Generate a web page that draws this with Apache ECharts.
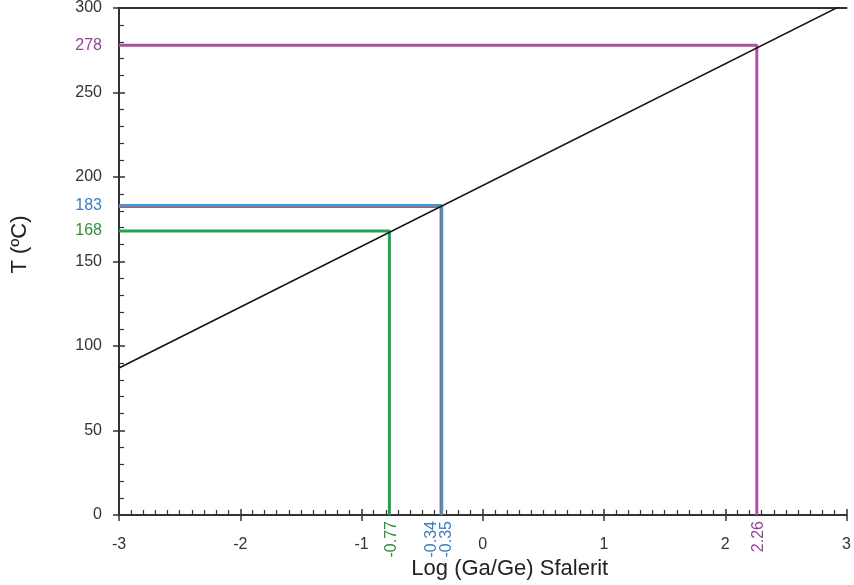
<!DOCTYPE html>
<html>
<head>
<meta charset="utf-8">
<script src="https://cdn.jsdelivr.net/npm/echarts@6/dist/echarts.min.js"></script>
<style>
  html, body { margin: 0; padding: 0; background: #fff; }
  #chart { width: 854px; height: 585px; }
</style>
</head>
<body>
<div id="chart"></div>
<script>
// geothermometer line, Log(Ga/Ge) -> T
var geoLine = [[-3, 87], [3, 303]];

// read-off guides: purple, red, blue, green
var guideX = [2.26, -0.35, -0.34, -0.77];
var guideT = [278, 182, 183, 168];
var guideColors = ["#b0509f", "#b85a5a", "#3a9ad8", "#1ea552"];
var guideWidths = [3, 1.3, 3.5, 3];

// coloured labels at the axes
var tLabels = ["278", "183", "168"];
var tLabelValues = [278, 183, 168];
var tLabelColors = ["#93409a", "#3a80c0", "#2f8f3a"];

var xLabels = ["2.26", "-0.35", "-0.34", "-0.77"];
var xLabelValues = [2.26, -0.35, -0.34, -0.77];
var xLabelColors = ["#93409a", "#3a80c0", "#3a80c0", "#2f8f3a"];
var xLabelShift = [2, 6, -10, 2];

var font = "Liberation Sans, Arial, sans-serif";
var axisColor = "#333";

var chartDom = document.getElementById("chart");
var myChart = echarts.init(chartDom);

var guideSeries = guideX.map(function (x, i) {
  return {
    type: "line",
    data: [[-3, guideT[i]], [x, guideT[i]], [x, 0]],
    symbol: "none",
    silent: true,
    lineStyle: { color: guideColors[i], width: guideWidths[i] },
    z: i === 1 ? 3 : 2
  };
});

var option = {
  animation: false,
  backgroundColor: "#fff",
  grid: { left: 119, right: 4, top: 7, bottom: 70 },
  xAxis: [
    {
      type: "value", min: -3, max: 3, interval: 1, position: "bottom",
      name: "Log (Ga/Ge) Sfalerit", nameLocation: "middle", nameGap: 40,
      nameTextStyle: { fontFamily: font, fontSize: 22, color: "#222", padding: [0, 0, 0, 54] },
      axisLine: { show: true, onZero: false, lineStyle: { color: axisColor, width: 2 } },
      axisTick: { show: true, inside: true, length: 6, lineStyle: { color: axisColor, width: 1.5 } },
      minorTick: { show: true, splitNumber: 10, length: 5, lineStyle: { color: axisColor, width: 1.2 } },
      axisLabel: { fontFamily: font, fontSize: 16, color: "#333", margin: 22 },
      splitLine: { show: false }
    },
    {
      type: "value", min: -3, max: 3, interval: 1, position: "bottom",
      axisLine: { show: false, onZero: false },
      axisTick: { show: true, inside: false, length: 6, lineStyle: { color: axisColor, width: 1.5 } },
      axisLabel: { show: false },
      splitLine: { show: false }
    },
    {
      type: "value", min: -3, max: 3, interval: 1, position: "top",
      axisLine: { show: true, onZero: false, lineStyle: { color: axisColor, width: 2 } },
      axisTick: { show: false },
      axisLabel: { show: false },
      splitLine: { show: false }
    }
  ],
  yAxis: [
    {
      type: "value", min: 0, max: 300, interval: 50, position: "left",
      name: "T (ºC)", nameLocation: "middle", nameGap: 88,
      nameTextStyle: { fontFamily: font, fontSize: 22, color: "#222", padding: [0, 0, 0, 34] },
      axisLine: { show: true, onZero: false, lineStyle: { color: axisColor, width: 2 } },
      axisTick: { show: true, inside: true, length: 6, lineStyle: { color: axisColor, width: 1.5 } },
      minorTick: { show: true, splitNumber: 5, length: 5, lineStyle: { color: axisColor, width: 1.2 } },
      axisLabel: { fontFamily: font, fontSize: 16, color: "#333", margin: 17 },
      splitLine: { show: false }
    },
    {
      type: "value", min: 0, max: 300, interval: 50, position: "left",
      axisLine: { show: false, onZero: false },
      axisTick: { show: true, inside: false, length: 6, lineStyle: { color: axisColor, width: 1.5 } },
      axisLabel: { show: false },
      splitLine: { show: false }
    }
  ],
  series: guideSeries.concat([
    {
      type: "line",
      data: geoLine,
      symbol: "none",
      clip: true,
      silent: true,
      lineStyle: { color: "#111", width: 1.5 },
      z: 4
    },
    {
      type: "custom",
      silent: true,
      data: tLabelValues.map(function (v) { return [-3, v]; }),
      renderItem: function (params, api) {
        var p = api.coord([api.value(0), api.value(1)]);
        var i = params.dataIndex;
        return {
          type: "text",
          x: p[0] - 17,
          y: p[1],
          style: {
            text: tLabels[i], fill: tLabelColors[i], fontFamily: font, fontSize: 16,
            align: "right", verticalAlign: "middle"
          }
        };
      },
      z: 5
    },
    {
      type: "custom",
      silent: true,
      data: xLabelValues.map(function (v) { return [v, 0]; }),
      renderItem: function (params, api) {
        var p = api.coord([api.value(0), api.value(1)]);
        var i = params.dataIndex;
        return {
          type: "text",
          x: p[0] + xLabelShift[i],
          y: p[1] + 6,
          rotation: Math.PI / 2,
          style: {
            text: xLabels[i], fill: xLabelColors[i], fontFamily: font, fontSize: 16,
            align: "right", verticalAlign: "middle"
          }
        };
      },
      z: 5
    }
  ])
};

option && myChart.setOption(option);
</script>
</body>
</html>
